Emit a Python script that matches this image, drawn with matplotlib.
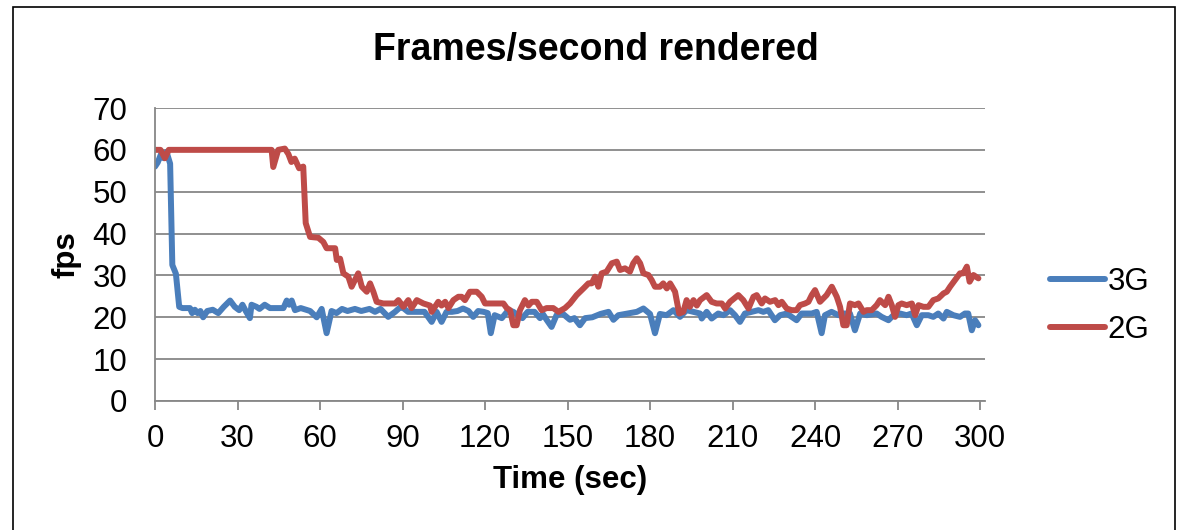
import matplotlib
matplotlib.use('Agg')
import matplotlib.pyplot as plt
from matplotlib.patches import Rectangle

plt.rcParams['font.family'] = ['Liberation Sans', 'DejaVu Sans']

# fps, 3G series
t_3g = [0, 1, 2.2, 3.2, 4.2, 5.5, 6.3, 7.6, 8.8, 10, 12.7, 13.5, 14.5, 15.5, 16.5, 17.5,
        19, 21, 23, 25, 27.3, 29, 30.6, 31.8, 33, 34.5, 35.1, 36.9, 38, 39.9, 41.8,
        46.7, 47.9, 48.8, 49.7, 50.9, 53, 56.4, 58.8, 60.6, 62.4, 64.2, 66, 68, 70,
        72.7, 75, 78, 80, 82, 84.8, 87.3, 89, 90.3, 92, 94, 96, 98, 100.6, 102.4,
        104.2, 106, 108, 110, 112, 114, 115.7, 117.5, 119.5, 121, 122.1, 123.5, 126.1,
        128.5, 130.3, 132, 133.6, 135.5, 138, 140, 141, 142.4, 144.2, 146, 148, 150.9,
        152.5, 154.5, 156.4, 159, 162, 164.9, 166.7, 168.5, 171, 175.2, 177.6, 180,
        181.8, 183.6, 186, 188.5, 190.9, 193.3, 198.2, 198.8, 200.6, 202.4, 204.8,
        206.7, 209.1, 210.9, 212.7, 214.5, 217, 219.4, 221.2, 223, 225.4, 227.3, 229.7,
        231.5, 233.3, 235.1, 238.8, 240.6, 242.4, 243.6, 246, 248.5, 250.3, 252.7,
        254.5, 256.4, 258.8, 262.4, 264.2, 266.7, 268.5, 270.9, 273.3, 275.1, 277,
        278.8, 281.2, 283, 284.8, 286.7, 287.9, 290.3, 292.7, 294.5, 295.7, 297, 298.2,
        299.4]
fps_3g = [56, 57, 59, 58, 59.5, 56.7, 32.5, 30.4, 22.5, 22.2, 22.2, 21, 21.8, 21, 21.5, 20,
          21.5, 21.8, 21, 22.5, 24, 22.5, 21.7, 23, 21.5, 19.8, 23, 22.5, 22, 23, 22.2,
          22.2, 24, 23, 24, 21.7, 22.2, 21.5, 20, 22, 16.2, 21.5, 21, 22, 21.5,
          22, 21.5, 22, 21.3, 22, 20.1, 21.3, 22.3, 22.2, 21.3, 21.3, 21.3, 21.3, 18.9, 21.3,
          18.9, 21.3, 21.3, 21.5, 22.1, 21.5, 20.1, 21.5, 21.3, 21, 16.2, 20.5, 19.8,
          21.7, 21.3, 20.5, 19.8, 21.3, 21.3, 19.8, 20.8, 19.4, 17.7, 20.5, 21, 19.4,
          19.8, 18.1, 19.8, 20, 20.8, 21.3, 19.4, 20.5, 20.8, 21.3, 22.1, 20.8,
          16.2, 20.8, 20.5, 21.7, 20.1, 21.7, 20.9, 19.7, 21.3, 19.7, 20.9,
          20.5, 21.7, 20.5, 18.9, 20.9, 21.3, 21.7, 21.3, 21.7, 19.3, 20.5, 20.9,
          20.1, 19.3, 20.9, 20.9, 21.3, 16.2, 20.5, 21.3, 20.5, 20.9, 20.9,
          16.9, 20.9, 20.5, 20.9, 20.1, 19.3, 20.5, 20.9, 20.5, 20.9, 18.1,
          20.5, 20.5, 20.1, 20.9, 19.7, 21.3, 20.5, 20.1, 20.9, 20.9, 16.9, 19.3,
          18.1]

# fps, 2G series
t_2g = [0, 2, 3.6, 5, 42.4, 43, 44.8, 47.2, 48.5, 49.6, 50.8, 52.4, 53.9, 54.8, 56.4,
        59.4, 61.2, 62.4, 65.5, 66.1, 67.3, 68.5, 70.3, 71.5, 73.9, 75.2, 77, 78.2,
        79.4, 80.6, 83, 87.3, 88.5, 90.3, 92.1, 93.3, 95.2, 97.6, 100, 100.6, 103,
        104.2, 105.5, 106.7, 108.5, 110.3, 111.5, 112.7, 114.5, 117, 118.8, 120,
        126.7, 127.9, 129.1, 130.3, 131.5, 132.7, 134.5, 135.8, 137, 138.8, 140.6,
        142.4, 144.8, 146.7, 149.1, 150.9, 153.3, 155.8, 157.6, 158.8, 160, 161.2,
        162.4, 164.2, 166.1, 167.9, 169.1, 170.9, 172.7, 173.9, 175.2, 176.4, 177.6,
        179.4, 180.6, 181.8, 183.6, 184.8, 186.1, 187.3, 189.1, 190.6, 192.1, 193.3,
        194.5, 195.8, 197, 198.2, 200.6, 202.4, 204.2, 206.1, 207.3, 209.1, 212.1,
        213.9, 215.8, 217.6, 218.8, 220.6, 221.8, 223.6, 225.5, 226.7, 227.9, 229.7,
        231.5, 233.3, 234.5, 236.4, 237.6, 238.8, 240, 241.8, 244.2, 246.1, 247.9,
        249.1, 250.3, 251.5, 252.7, 254.5, 255.8, 257.6, 258.8, 260.6, 262.4, 263.6,
        265.5, 266.7, 267.9, 269.1, 270.3, 271.5, 273.3, 275.2, 276.4, 277.6, 279.4,
        281.2, 283, 284.8, 286.7, 287.9, 289.1, 290.9, 292.7, 293.9, 295.2, 296.2,
        297.6, 299.4]
fps_2g = [60, 60, 58, 60, 60, 55.9, 60, 60.3, 59, 57.1, 57.9, 55.6, 56, 42.5, 39.2,
          39, 38, 36.5, 36.5, 33.7, 34, 30.5, 29.7, 27.3, 30.5, 27.3, 26.1, 28.1,
          26.1, 23.7, 23.3, 23.3, 24.1, 22.5, 24.1, 22.2, 24.1, 23.3, 22.8, 21.3, 23.7,
          22.8, 23.7, 22.2, 24.1, 24.9, 24.9, 24.1, 26.1, 26.1, 24.9, 23.3,
          23.3, 22.2, 21.7, 18.1, 18.1, 21.7, 24.1, 22.8, 23.7, 23.7, 21.7,
          22.2, 22.2, 21.3, 22.2, 23.3, 25.3, 26.9, 28.1, 28.1, 29.7, 27.3,
          30.5, 30.9, 32.9, 33.3, 31.3, 31.7, 30.9, 32.9, 34.1, 32.9, 30.5,
          30.1, 28.9, 27.3, 27.3, 28.1, 26.9, 28.1, 26.1, 20.9, 21.3, 24.1,
          22.5, 24.1, 22.8, 24.1, 25.3, 23.7, 23.3, 23.3, 22.1, 23.7, 25.3,
          24.1, 22.1, 24.9, 25.3, 23.3, 24.5, 23.7, 24.1, 22.9, 23.7, 22.1,
          21.7, 21.7, 22.9, 23.3, 23.7, 25.3, 26.5, 23.7, 25.3, 27.3, 24.9,
          22.5, 18.1, 18.1, 23.3, 22.9, 23.3, 21.3, 21.7, 21.7, 22.9, 24.1,
          22.9, 24.9, 22.9, 20.1, 22.9, 23.3, 22.9, 23.3, 20.5, 22.9, 22.5,
          22.5, 24.1, 24.5, 25.7, 26.1, 27.3, 28.9, 30.5, 30.5, 32.1, 28.5,
          30.1, 29.3]

x_ticks = list(range(0, 301, 30))
y_ticks = list(range(0, 71, 10))

grid_col = '#878787'

fig = plt.figure(figsize=(11.82, 5.30), dpi=100)
ax = fig.add_axes([155/1182, 1 - 401/530, 830/1182, 293/530])

ax.plot(t_3g, fps_3g, color='#4A7EBB', lw=4.3, label='3G',
        solid_joinstyle='round', solid_capstyle='round')
ax.plot(t_2g, fps_2g, color='#BE4B48', lw=4.3, label='2G',
        solid_joinstyle='round', solid_capstyle='round')

ax.set_xlim(0, 301.8)
ax.set_ylim(0, 70)
ax.set_xticks(x_ticks)
ax.set_yticks(y_ticks)
ax.yaxis.grid(True, color=grid_col, lw=1.3)
ax.set_axisbelow(True)
for s in ['top', 'right']:
    ax.spines[s].set_visible(False)
for s in ['left', 'bottom']:
    ax.spines[s].set_color(grid_col)
    ax.spines[s].set_linewidth(1.3)
ax.tick_params(axis='y', length=0, pad=20, labelsize=22.5)
ax.tick_params(axis='x', length=6.5, width=1.3, color=grid_col, pad=10, labelsize=22.5)

ax.set_xlabel('Time (sec)', fontsize=22.5, fontweight='bold', labelpad=8)
ax.set_ylabel('fps', fontsize=22.5, fontweight='bold', labelpad=8)

fig.text(596/1182, 1 - 50/530, 'Frames/second rendered', fontsize=27,
         fontweight='bold', ha='center', va='center')

ax.legend(loc='center left', bbox_to_anchor=(1050/1182, 1 - 306/530),
          bbox_transform=fig.transFigure, frameon=False, fontsize=22.5,
          handlelength=1.75, handletextpad=0.1, labelspacing=0.55,
          borderpad=0, borderaxespad=0)

fig.patches.append(Rectangle((13/1182, -0.1), (1175 - 13)/1182, 1.1 - 7/530,
                             transform=fig.transFigure, fill=False,
                             edgecolor='black', lw=1.2))

fig.savefig('out.png', dpi=100)
